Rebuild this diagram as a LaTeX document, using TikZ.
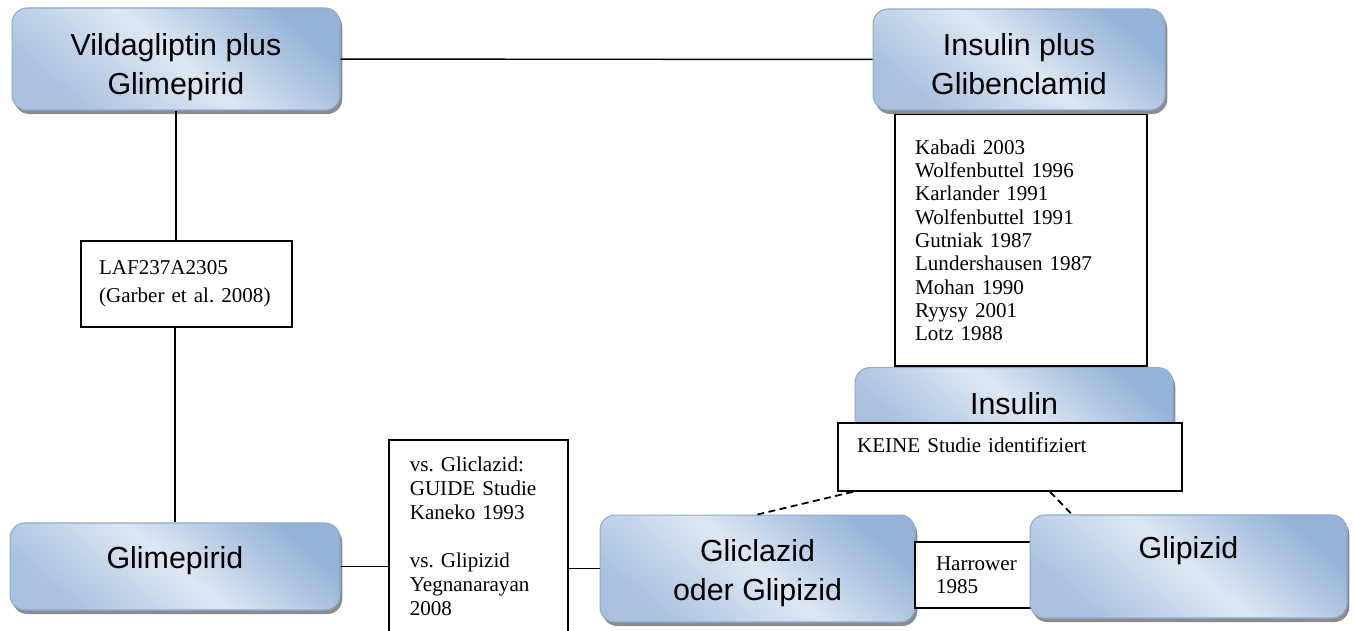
\documentclass[tikz,border=0pt]{standalone}
\usepackage{fontspec}
\setmainfont{Liberation Serif}
\setsansfont{Liberation Sans}
\usetikzlibrary{positioning,shadows}

\definecolor{boxdark}{HTML}{95B3D7}
\definecolor{boxlight}{HTML}{DDE7F3}
\definecolor{boxlow}{HTML}{A9C1DF}
\definecolor{boxedge}{HTML}{8EAAD3}

% struts to move box text up or down
\newcommand{\padtop}[1]{\rule{0pt}{#1}}
\newcommand{\padbot}[1]{\rule[-#1]{0pt}{#1}}

\tikzset{
drugbox/.style={draw=boxedge,line width=0.6pt,rounded corners=0.3cm,
  top color=boxdark,bottom color=boxlow,middle color=boxlight,shading angle=-40,
  drop shadow={shadow xshift=1.3pt,shadow yshift=-2.3pt,fill=black!45,opacity=1},
  font=\sffamily\fontsize{17.3}{22}\selectfont,align=center},
refbox/.style={draw,line width=0.9pt,fill=white,align=left,
  font=\fontsize{12}{13.7}\selectfont},
link/.style={line width=0.8pt},
nolink/.style={line width=1pt,dash pattern=on 4pt off 2.5pt}
}

\begin{document}
\frenchspacing
\begin{tikzpicture}[x=0.02cm,y=-0.02cm]
\useasboundingbox (0,0) rectangle (1354,630);
\clip (0,0) rectangle (1354,630);

% top row
\node[drugbox,minimum width=6.56cm,minimum height=2.04cm] (vild) at (176,59) {\padtop{0.77cm}Vildagliptin plus\\Glimepirid};
\node[drugbox,minimum width=5.84cm,minimum height=2.02cm] (insgli) at (1019,59.5) {\padtop{0.63cm}Insulin plus\\Glibenclamid};
\draw[link] (vild) -- (insgli);

% studies insulin plus glibenclamid
\node[refbox,below=0.06cm of insgli,xshift=0.04cm,text width=4.24cm,inner xsep=0.4cm,minimum height=5.04cm,
  font=\fontsize{12}{13.3}\selectfont] (insgliref) {Kabadi 2003\\Wolfenbuttel 1996\\Karlander 1991\\Wolfenbuttel 1991\\Gutniak 1987\\Lundershausen 1987\\Mohan 1990\\Ryysy 2001\\Lotz 1988};
\node[drugbox,below=0cm of insgliref,xshift=-0.14cm,minimum width=6.36cm,minimum height=1.44cm] (ins) {Insulin};
\node[refbox,text width=6.12cm,inner xsep=0.38cm,minimum height=1.36cm] (insref) at (1010,457) {KEINE Studie identifiziert\\\mbox{}};

% left column
\node[refbox,text width=3.5cm,inner xsep=0.36cm,minimum height=1.72cm,
  font=\fontsize{12}{16}\selectfont] (lafref) at (186.5,284) {LAF237A2305\\(Garber et al. 2008)};
\node[drugbox,minimum width=6.6cm,minimum height=1.74cm] (glim) at (175,566.5) {Glimepirid\padbot{0.37cm}};
\draw[link] (vild.south) -- (vild.south |- lafref.north);
\draw[link] (lafref.south -| glim.north) -- (glim.north);

% bottom row
\node[refbox,anchor=north west,text width=2.74cm,inner xsep=0.42cm,inner ysep=0.34cm] (glimref) at (388,439)
  {vs. Gliclazid:\\GUIDE Studie\\Kaneko 1993\\\mbox{}\\vs. Glipizid\\Yegnanarayan\\2008};
\node[drugbox,minimum width=6.3cm,minimum height=2.14cm] (glicl) at (757.5,568.5) {\padtop{0.63cm}Gliclazid\\oder Glipizid};
\node[refbox,text width=1.76cm,inner xsep=0.42cm,minimum height=1.32cm,
  font=\fontsize{12}{13}\selectfont] (harref) at (980,575) {Harrower\\1985};
\node[drugbox,minimum width=6.34cm,minimum height=2.06cm] (glip) at (1188.5,566.5) {Glipizid\\\mbox{}};
\draw[link] (glim.east) -- (glim.east -| glimref.west);
\draw[link] (glimref.east |- glicl.west) -- (glicl.west);

% no study found
\draw[nolink] ([xshift=-3.14cm]insref.south) -- (glicl.north);
\draw[nolink] ([xshift=0.8cm]insref.south) -- ([xshift=-2.33cm]glip.north);
\end{tikzpicture}
\end{document}
